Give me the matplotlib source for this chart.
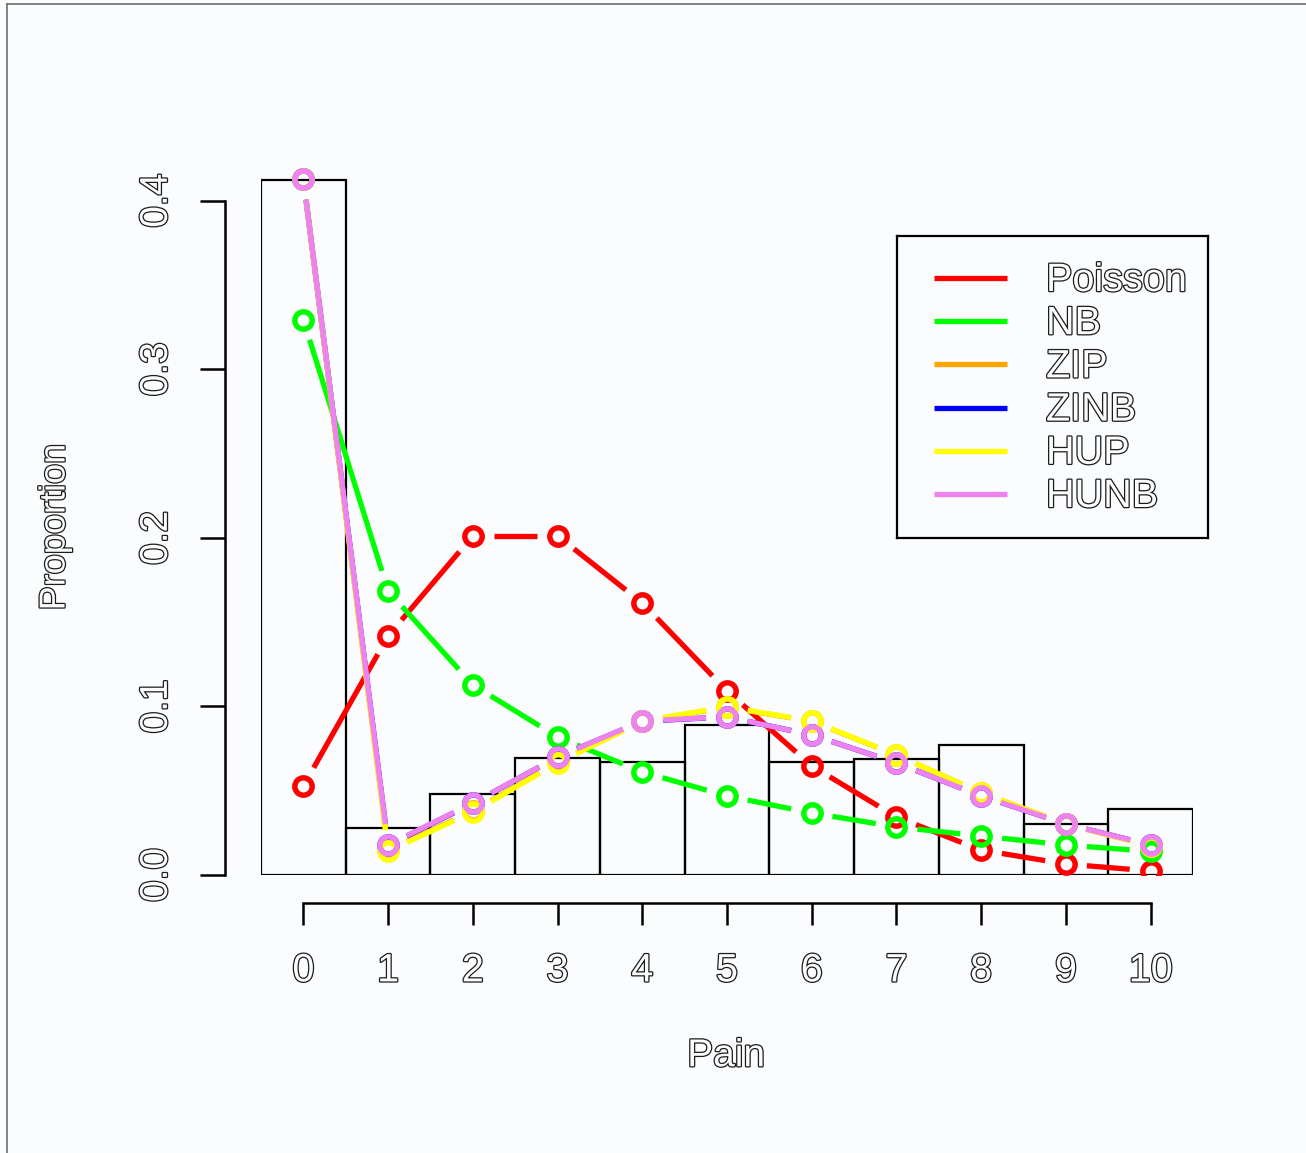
import numpy as np
import matplotlib
matplotlib.use("Agg")
import matplotlib.pyplot as plt
import matplotlib.patheffects as pe
from matplotlib.lines import Line2D

# Observed pain scores and fitted count-model probabilities
pain = list(range(11))
observed = [0.4125, 0.0279, 0.0480, 0.0694, 0.0671, 0.0890, 0.0670, 0.0688, 0.0772, 0.0303, 0.0392]
poisson = [0.0528, 0.1418, 0.2012, 0.2012, 0.1614, 0.1092, 0.0647, 0.0344, 0.0148, 0.0065, 0.0024]
nb = [0.3294, 0.1685, 0.1128, 0.0819, 0.0611, 0.0469, 0.0368, 0.0285, 0.0231, 0.0178, 0.0140]
zip_fit = [0.4130, 0.0148, 0.0378, 0.0668, 0.0912, 0.0995, 0.0912, 0.0712, 0.0487, 0.0303, 0.0172]
zinb_fit = [0.4130, 0.0176, 0.0425, 0.0700, 0.0912, 0.0938, 0.0831, 0.0665, 0.0469, 0.0303, 0.0178]
hup = [0.4130, 0.0142, 0.0374, 0.0665, 0.0914, 0.0997, 0.0914, 0.0712, 0.0487, 0.0303, 0.0172]
hunb = [0.4130, 0.0178, 0.0427, 0.0700, 0.0914, 0.0938, 0.0831, 0.0665, 0.0469, 0.0303, 0.0178]

model_names = ["Poisson", "NB", "ZIP", "ZINB", "HUP", "HUNB"]
model_colors = ["#ff0000", "#00ff00", "#ffa500", "#0000ff", "#ffff00", "#ee82ee"]
model_values = [poisson, nb, zip_fit, zinb_fit, hup, hunb]

x_ticks = list(range(11))
y_ticks = [0.0, 0.1, 0.2, 0.3, 0.4]
y_ticklabels = ["0.0", "0.1", "0.2", "0.3", "0.4"]

W, H = 1306, 1153
BG = "#fbfcfe"
plt.rcParams["font.family"] = ["Liberation Sans", "DejaVu Sans"]

outline = [pe.withStroke(linewidth=1.8, foreground="#1c1c1c")]

fig = plt.figure(figsize=(W / 100, H / 100), dpi=100, facecolor=BG)
ax = fig.add_axes([261 / W, (H - 875) / H, 932 / W, 708 / H], facecolor=BG)
ax.set_xlim(-0.5, 10.5)
ax.set_ylim(0, 0.42)
ax.set_autoscale_on(False)

# histogram of observed proportions
ax.bar(pain, observed, width=1.0, fill=False, edgecolor="black", linewidth=1.6)


def plot_both(ax, x, y, color, gap_px=21.0, lw=3.8):
    """Points joined by segments that stop short of each point."""
    pts = ax.transData.transform(np.column_stack([x, y]))
    inv = ax.transData.inverted()
    for p, q in zip(pts[:-1], pts[1:]):
        d = q - p
        length = np.hypot(d[0], d[1])
        if length <= 2 * gap_px:
            continue
        u = d / length
        a = inv.transform(p + u * gap_px)
        b = inv.transform(q - u * gap_px)
        ax.plot([a[0], b[0]], [a[1], b[1]], color=color, lw=lw,
                solid_capstyle="butt")
    ax.plot(x, y, "o", ms=12.5, mfc="none", mec=color, mew=3.9)


for vals, col in zip(model_values, model_colors):
    plot_both(ax, pain, vals, col)

# axes in the classic detached style
for side in ("top", "right"):
    ax.spines[side].set_visible(False)
ax.spines["left"].set_position(("outward", 26))
ax.spines["left"].set_bounds(0, 0.4)
ax.spines["bottom"].set_position(("outward", 20))
ax.spines["bottom"].set_bounds(0, 10)
for side in ("left", "bottom"):
    ax.spines[side].set_linewidth(1.8)

ax.set_xticks(x_ticks)
ax.set_xticklabels([str(v) for v in x_ticks])
ax.set_yticks(y_ticks)
ax.set_yticklabels(y_ticklabels)
ax.tick_params(axis="x", length=16, width=1.8, pad=19, labelsize=28.5,
               labelcolor=BG)
ax.tick_params(axis="y", length=18, width=1.8, pad=18, labelsize=28,
               labelcolor=BG, labelrotation=90)
for lab in ax.get_xticklabels() + ax.get_yticklabels():
    lab.set_path_effects(outline)
for lab in ax.get_yticklabels():
    lab.set_va("center")

ax.set_xlabel("Pain", fontsize=28, color=BG, path_effects=outline)
ax.xaxis.set_label_coords(0.499, -0.256)
ax.xaxis.label.set_va("center")
ax.set_ylabel("Proportion", fontsize=26, color=BG, path_effects=outline)
ax.yaxis.set_label_coords(-0.221, 0.4915)
ax.yaxis.label.set_va("center")

# legend box
lg = fig.add_axes([897 / W, (H - 538) / H, 311 / W, 302 / H], facecolor=BG)
lg.set_xlim(0, 311)
lg.set_ylim(302, 0)
lg.set_xticks([])
lg.set_yticks([])
for s in lg.spines.values():
    s.set_linewidth(1.6)
row_y = 42
for i, (name, col) in enumerate(zip(model_names, model_colors)):
    yy = row_y + i * 43.2
    lg.plot([37, 110], [yy, yy], color=col, lw=3.8, solid_capstyle="butt")
    lg.text(149, yy + 2, name, fontsize=28.5, color=BG, ha="left", va="center",
            path_effects=outline)

# device border
fig.add_artist(Line2D([7 / W, 7 / W], [0, 1 - 4 / H], color="#6e6e6e", lw=1.2,
                      transform=fig.transFigure))
fig.add_artist(Line2D([7 / W, 1], [1 - 4 / H, 1 - 4 / H], color="#6e6e6e", lw=1.2,
                      transform=fig.transFigure))

fig.savefig("out.png", dpi=100, facecolor=BG)
